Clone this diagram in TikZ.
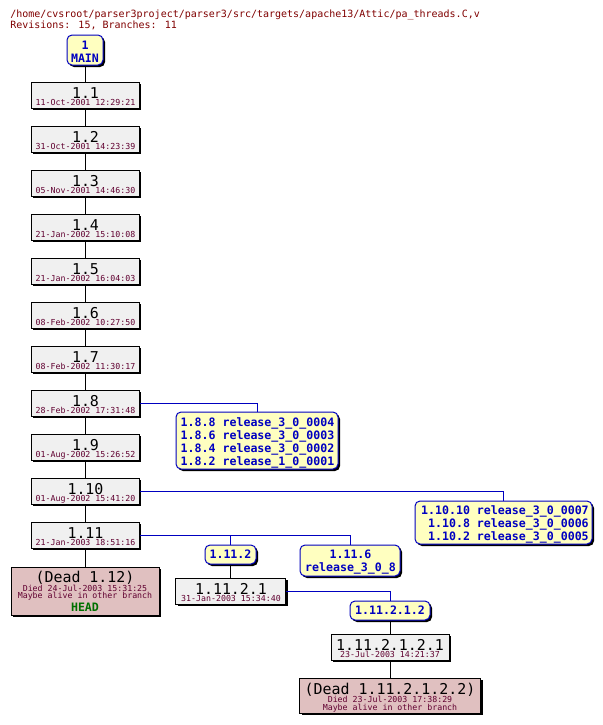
\documentclass[tikz,border=0pt]{standalone}
\usepackage{fontspec}
\newfontfamily\cvmono{DejaVu Sans Mono}
\newcommand\cvBig{\cvmono\fontsize{11.2pt}{13pt}\selectfont}
\newcommand\cvTiny{\cvmono\fontsize{6.2pt}{7pt}\selectfont}
\newcommand\cvMed{\cvmono\bfseries\fontsize{8.7pt}{9.75pt}\selectfont}
\newcommand\cvSmall{\cvmono\fontsize{7.5pt}{8.5pt}\selectfont}
\usetikzlibrary{shadows}
\definecolor{revbg}{HTML}{F0F0F0}
\definecolor{tagbg}{HTML}{FFFFC0}
\definecolor{deadbg}{HTML}{E0C0C0}
\definecolor{brc}{HTML}{0000C0}
\definecolor{datec}{HTML}{600030}
\definecolor{titlec}{HTML}{800000}
\definecolor{headc}{HTML}{007000}
\tikzset{
  cvshadow/.style={drop shadow={shadow xshift=1.5pt, shadow yshift=-1.5pt, fill=black, opacity=1}},
  revbox/.style={draw=black, fill=revbg, line width=0.75pt, inner sep=0pt, minimum width=81pt, minimum height=19.5pt, cvshadow},
  deadbox/.style={revbox, fill=deadbg},
  tagbox/.style={draw=brc, fill=tagbg, line width=0.75pt, rounded corners=3.75pt, inner sep=0pt, cvshadow},
  trunkline/.style={draw=black, line width=0.75pt},
  branchline/.style={draw=brc, line width=0.75pt},
  revnum/.style={anchor=base, font=\cvBig, inner sep=0pt, text=black},
  revdate/.style={anchor=base, font=\cvTiny, inner sep=0pt, text=datec},
  taglabel/.style={anchor=base, font=\cvMed, inner sep=0pt, text=brc},
  titletext/.style={anchor=base west, font=\cvSmall, inner sep=0pt, text=titlec},
}
\begin{document}
\begin{tikzpicture}[x=0.75pt, y=-0.75pt]
\useasboundingbox (0,0) rectangle (603,725);
\fill[white] (0,0) rectangle (603,725);

% header
\node[titletext] (title1) at (10,17) {/home/cvsroot/parser3project/parser3/src/targets/apache13/Attic/pa\_threads.C,v};
\node[titletext] (title2) at (10,28) {Revisions: 15, Branches: 11};

% MAIN
\node[tagbox, minimum width=27pt, minimum height=22.5pt] (main) at (85,50) {};
\node[taglabel] (mainA) at (85,49) {1};
\node[taglabel] (mainB) at (85,62) {MAIN};

% trunk revisions
\foreach \n/\rv/\dt [count=\k from 0] in {
  11/1.1/11-Oct-2001 12:29:21,
  12/1.2/31-Oct-2001 14:23:39,
  13/1.3/05-Nov-2001 14:46:30,
  14/1.4/21-Jan-2002 15:10:08,
  15/1.5/21-Jan-2002 16:04:03,
  16/1.6/08-Feb-2002 10:27:50,
  17/1.7/08-Feb-2002 11:30:17,
  18/1.8/28-Feb-2002 17:31:48,
  19/1.9/01-Aug-2002 15:26:52,
  110/1.10/01-Aug-2002 15:41:20,
  111/1.11/21-Jan-2003 18:51:16}{
  \node[revbox] (r\n) at (85,{95+44*\k}) {};
  \node[revnum] (rn\n) at (85.5,{98.5+44*\k}) {\rv};
  \node[revdate] (rd\n) at (85.5,{105.5+44*\k}) {\dt};
}

% dead 1.12
\node[deadbox, minimum width=111pt, minimum height=36pt] (d112) at (85,591) {};
\node[revnum] (d112a) at (85,582) {(Dead 1.12)};
\node[revdate] (d112b) at (85,591) {Died 24-Jul-2003 15:31:25};
\node[revdate] (d112c) at (85,598.5) {Maybe alive in other branch};
\node[anchor=base, font=\cvMed, inner sep=0pt, text=headc] (d112d) at (85,611) {HEAD};

% branch tags 1.8
\node[tagbox, minimum width=121.5pt, minimum height=42.75pt] (b18) at (257,440.5) {};
\node[taglabel] (b18a) at (257.5,426) {1.8.8 release\_3\_0\_0004};
\node[taglabel] (b18b) at (257.5,439) {1.8.6 release\_3\_0\_0003};
\node[taglabel] (b18c) at (257.5,452) {1.8.4 release\_3\_0\_0002};
\node[taglabel] (b18d) at (257.5,465) {1.8.2 release\_1\_0\_0001};

% branch tags 1.10
\node[tagbox, minimum width=132.75pt, minimum height=32.25pt] (b110) at (503.5,522.5) {};
\node[taglabel, anchor=base east] (b110a) at (589,514) {1.10.10 release\_3\_0\_0007};
\node[taglabel, anchor=base east] (b110b) at (589,527) {1.10.8 release\_3\_0\_0006};
\node[taglabel, anchor=base east] (b110c) at (589,540) {1.10.2 release\_3\_0\_0005};

% branch 1.11.2
\node[tagbox, minimum width=38.25pt, minimum height=14.25pt] (b1112) at (230.5,554.5) {};
\node[taglabel] (b1112a) at (230.5,558) {1.11.2};

% branch 1.11.6
\node[tagbox, minimum width=75pt, minimum height=23.25pt] (b1116) at (350,560.5) {};
\node[taglabel] (b1116a) at (350.5,558) {1.11.6};
\node[taglabel] (b1116b) at (350.5,571) {release\_3\_0\_8};

% revision 1.11.2.1
\node[revbox, minimum width=82.5pt] (r11121) at (230.5,591) {};
\node[revnum] (r11121a) at (231,594.5) {1.11.2.1};
\node[revdate] (r11121b) at (231,601.5) {31-Jan-2003 15:34:40};

% branch 1.11.2.1.2
\node[tagbox, minimum width=60pt, minimum height=14.25pt] (b111212) at (390,610.5) {};
\node[taglabel] (b111212a) at (390,614) {1.11.2.1.2};

% revision 1.11.2.1.2.1
\node[revbox, minimum width=88.5pt] (r1112121) at (390,647) {};
\node[revnum] (r1112121a) at (390,650.5) {1.11.2.1.2.1};
\node[revdate] (r1112121b) at (390,657.5) {23-Jul-2003 14:21:37};

% dead 1.11.2.1.2.2
\node[deadbox, minimum width=135.75pt, minimum height=26.25pt] (d1112122) at (390,695.5) {};
\node[revnum] (d1112122a) at (390,694.5) {(Dead 1.11.2.1.2.2)};
\node[revdate] (d1112122b) at (390,702) {Died 23-Jul-2003 17:38:29};
\node[revdate] (d1112122c) at (390,710) {Maybe alive in other branch};

% trunk connectors
\foreach \a/\b in {main/r11,r11/r12,r12/r13,r13/r14,r14/r15,r15/r16,r16/r17,r17/r18,r18/r19,r19/r110,r110/r111,r111/d112,b1112/r11121,b111212/r1112121,r1112121/d1112122}
  \draw[trunkline] (\a) -- (\b);

% branch connectors
\draw[branchline] (r18.east) -| (b18.north);
\draw[branchline] (r110.east) -| (b110.north);
\draw[branchline] (r111.east) -| (b1112.north);
\draw[branchline] (r111.east) -| (b1116.north);
\draw[branchline] (r11121.east) -| (b111212.north);
\end{tikzpicture}
\end{document}
